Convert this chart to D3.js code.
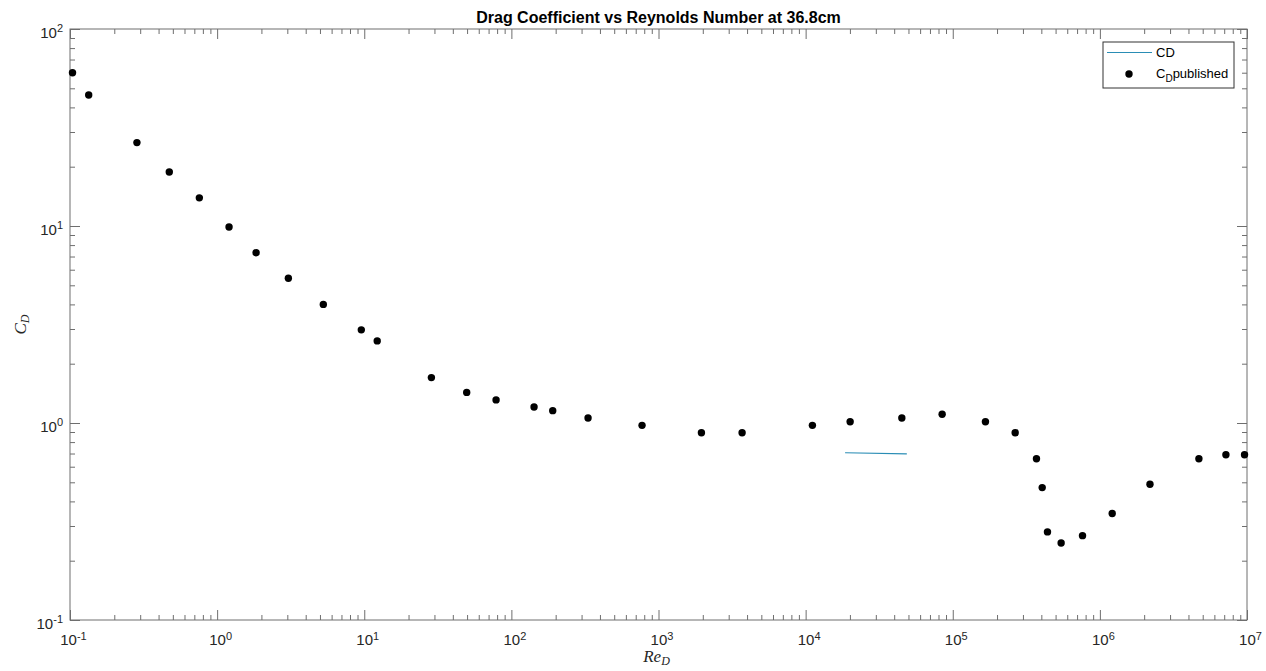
<!DOCTYPE html>
<html>
<head>
<meta charset="utf-8">
<script src="https://cdn.jsdelivr.net/npm/d3@7"></script>
<style>
  html, body { margin: 0; padding: 0; background: #fff; }
  svg { display: block; font-family: "Liberation Sans", Arial, Helvetica, sans-serif; }
</style>
</head>
<body>
<svg id="chart" width="1266" height="671"></svg>
<script>
// ---- data ----
const title = "Drag Coefficient vs Reynolds Number at 36.8cm";
const publishedRe = [0.104, 0.134, 0.285, 0.473, 0.757, 1.205, 1.84, 3.05, 5.27, 9.55, 12.25,
  28.6, 49.7, 78.7, 142.6, 191, 332, 773, 1958, 3700, 11120, 20070, 45080, 84700, 166800,
  265600, 370700, 405500, 440400, 545400, 762000, 1213000, 2190000, 4710000, 7190000, 9620000];
const publishedCD = [60.0, 46.2, 26.5, 18.8, 13.9, 9.88, 7.32, 5.43, 4.00, 2.97, 2.61,
  1.70, 1.43, 1.31, 1.205, 1.155, 1.06, 0.973, 0.893, 0.893, 0.973, 1.015, 1.06, 1.107, 1.015,
  0.893, 0.659, 0.470, 0.280, 0.246, 0.268, 0.347, 0.489, 0.659, 0.690, 0.690];
const measuredRe = [18550, 48750];
const measuredCD = [0.706, 0.697];
const xMajorExps = [-1, 0, 1, 2, 3, 4, 5, 6, 7];
const yMajorExps = [-1, 0, 1, 2];
const legendLabels = ["CD", "published"];

// ---- layout ----
const svg = d3.select("#chart");
const L = 70, R = 1247, T = 29, B = 620;
const x = d3.scaleLog().domain([0.1, 1e7]).range([L, R]);
const y = d3.scaleLog().domain([0.1, 100]).range([B, T]);
const axisColor = "#6e6e6e";
const sans = "'Liberation Sans', Arial, Helvetica, sans-serif";

function minorVals(exps) {
  const out = [];
  for (let i = 0; i < exps.length - 1; i++) {
    for (let k = 2; k <= 9; k++) out.push(k * Math.pow(10, exps[i]));
  }
  return out;
}
const xMajor = xMajorExps.map(e => Math.pow(10, e));
const yMajor = yMajorExps.map(e => Math.pow(10, e));
const xMinor = minorVals(xMajorExps);
const yMinor = minorVals(yMajorExps);

function styleAxis(g) {
  g.attr("font-family", sans);
  g.select(".domain").remove();
  g.selectAll(".tick line").attr("stroke", axisColor).attr("stroke-width", 1);
}
function supLabel(g, expFn) {
  g.selectAll(".tick text").each(function(d) {
    const t = d3.select(this);
    t.text(null).attr("fill", "#262626").attr("font-size", 15).style("font-size", "15px").style("font-family", sans);
    t.append("tspan").text("10");
    t.append("tspan").attr("dy", "-0.5em").style("font-size", "11px").text(expFn(d));
  });
}
const expOf = d => String(Math.round(Math.log10(d)));

// bottom axis
svg.append("g").attr("transform", `translate(0,${B})`)
  .call(d3.axisBottom(x).tickValues(xMinor).tickSize(-5).tickFormat(""))
  .call(styleAxis);
const gxb = svg.append("g").attr("transform", `translate(0,${B})`)
  .call(d3.axisBottom(x).tickValues(xMajor).tickSize(-10).tickFormat(() => ""))
  .call(styleAxis);
supLabel(gxb, expOf);
gxb.selectAll(".tick text").attr("y", 25).attr("dy", "0").attr("dx", "3");

// top axis
svg.append("g").attr("transform", `translate(0,${T})`)
  .call(d3.axisTop(x).tickValues(xMinor).tickSize(-5).tickFormat(""))
  .call(styleAxis);
svg.append("g").attr("transform", `translate(0,${T})`)
  .call(d3.axisTop(x).tickValues(xMajor).tickSize(-10).tickFormat(""))
  .call(styleAxis);

// left axis
svg.append("g").attr("transform", `translate(${L},0)`)
  .call(d3.axisLeft(y).tickValues(yMinor).tickSize(-5).tickFormat(""))
  .call(styleAxis);
const gyl = svg.append("g").attr("transform", `translate(${L},0)`)
  .call(d3.axisLeft(y).tickValues(yMajor).tickSize(-10).tickFormat(() => ""))
  .call(styleAxis);
supLabel(gyl, expOf);
gyl.selectAll(".tick text").attr("x", -7).attr("dy", "0.55em");

// right axis
svg.append("g").attr("transform", `translate(${R},0)`)
  .call(d3.axisRight(y).tickValues(yMinor).tickSize(-5).tickFormat(""))
  .call(styleAxis);
svg.append("g").attr("transform", `translate(${R},0)`)
  .call(d3.axisRight(y).tickValues(yMajor).tickSize(-10).tickFormat(""))
  .call(styleAxis);

// box
svg.append("rect").attr("x", L).attr("y", T).attr("width", R - L).attr("height", B - T)
  .attr("fill", "none").attr("stroke", axisColor).attr("stroke-width", 1);

// measured line
const line = d3.line().x(d => x(d[0])).y(d => y(d[1]));
svg.append("path").datum(measuredRe.map((r, i) => [r, measuredCD[i]]))
  .attr("d", line).attr("fill", "none").attr("stroke", "#2a8db5").attr("stroke-width", 1.1);

// published points
svg.append("g").selectAll("circle").data(publishedRe.map((r, i) => [r, publishedCD[i]]))
  .join("circle").attr("cx", d => x(d[0])).attr("cy", d => y(d[1])).attr("r", 3.7).attr("fill", "#000");

// title
svg.append("text").attr("x", (L + R) / 2).attr("y", 23).attr("text-anchor", "middle")
  .style("font-size", "16px").style("font-weight", "bold").attr("fill", "#000").text(title);

// axis labels (LaTeX-like)
const xl = svg.append("text").attr("x", (L + R) / 2 - 2).attr("y", 662).attr("text-anchor", "middle")
  .style("font-family", "'Liberation Serif', 'DejaVu Serif', serif").style("font-style", "italic")
  .style("font-size", "17px").attr("fill", "#262626");
xl.append("tspan").text("Re");
xl.append("tspan").attr("dy", "3").style("font-size", "12px").text("D");

const yl = svg.append("text").attr("transform", `translate(26,${(T + B) / 2}) rotate(-90)`)
  .attr("text-anchor", "middle")
  .style("font-family", "'Liberation Serif', 'DejaVu Serif', serif").style("font-style", "italic")
  .style("font-size", "17px").attr("fill", "#262626");
yl.append("tspan").text("C");
yl.append("tspan").attr("dy", "3").style("font-size", "12px").text("D");

// legend
const lg = svg.append("g");
lg.append("rect").attr("x", 1103).attr("y", 42).attr("width", 131).attr("height", 46)
  .attr("fill", "#fff").attr("stroke", "#333").attr("stroke-width", 1);
lg.append("line").attr("x1", 1107).attr("x2", 1152).attr("y1", 52.5).attr("y2", 52.5)
  .attr("stroke", "#2a8db5").attr("stroke-width", 1.1);
lg.append("text").attr("x", 1156).attr("y", 57).style("font-size", "13px").attr("fill", "#000").text(legendLabels[0]);
lg.append("circle").attr("cx", 1129).attr("cy", 74).attr("r", 3.7).attr("fill", "#000");
const lt = lg.append("text").attr("x", 1156).attr("y", 78).style("font-size", "13px").attr("fill", "#000");
lt.append("tspan").text("C");
lt.append("tspan").attr("dy", "4").style("font-size", "10px").text("D");
lt.append("tspan").attr("dy", "-4").text(legendLabels[1]);
</script>
</body>
</html>
